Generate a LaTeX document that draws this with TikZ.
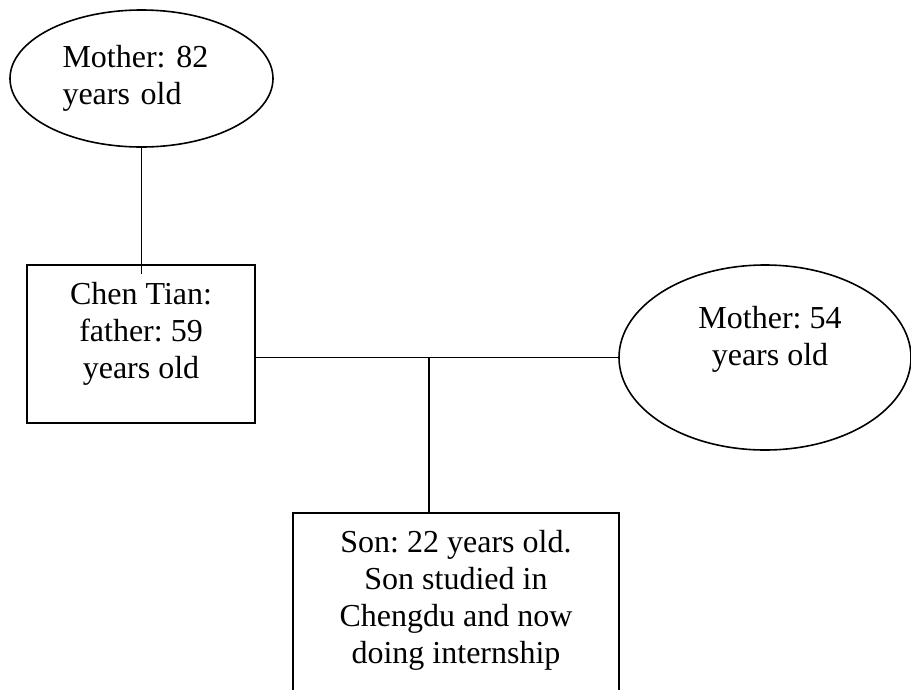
\documentclass[tikz,border=0pt]{standalone}
\usepackage{fontspec}
\setmainfont{Liberation Serif}
\usetikzlibrary{shapes.geometric,calc}

\tikzset{
  label text/.style={font=\fontsize{32}{37}\selectfont\frenchspacing, inner sep=0pt},
  person oval/.style={label text, ellipse, draw, line width=1.6pt},
  person box/.style={label text, rectangle, draw, line width=1.9pt},
  link/.style={line width=1.6pt},
}

\begin{document}
\begin{tikzpicture}[x=1pt, y=-1pt]
  \useasboundingbox (0,0) rectangle (911,689);

  % grandmother
  \node[person oval, minimum width=263pt, minimum height=137pt,
        text width=158pt, align=left, text height=22pt, text depth=45pt]
    (grandma) at (141.5,78.5) {Mother: 82\\years old};

  % father
  \node[person box, minimum width=228pt, minimum height=158pt,
        align=center, text height=96pt, text depth=28pt]
    (father) at (141,344) {Chen Tian:\\father: 59\\years old};

  % mother
  \node[person oval, minimum width=292pt, minimum height=185pt,
        align=center, text height=59pt, text depth=44pt]
    (mother) at (765,357.5) {\hspace*{10pt}Mother: 54\\\hspace*{10pt}years old};

  % son (box runs past the lower edge of the page)
  \node[person box, minimum width=326pt, minimum height=190pt,
        align=center, text height=133pt, text depth=23pt]
    (son) at (456,608) {Son: 22 years old.\\Son studied in\\Chengdu and now\\doing internship};

  % connectors
  \coordinate (fatherTop) at ($(grandma.south |- father.north)+(0,10)$);
  \draw[link] (grandma.south) -- (fatherTop);
  \draw[link] (father.east |- mother.west) -- coordinate[pos=0.478] (fork) (mother.west);
  \draw[link] (fork) -- (fork |- son.north);
\end{tikzpicture}
\end{document}
